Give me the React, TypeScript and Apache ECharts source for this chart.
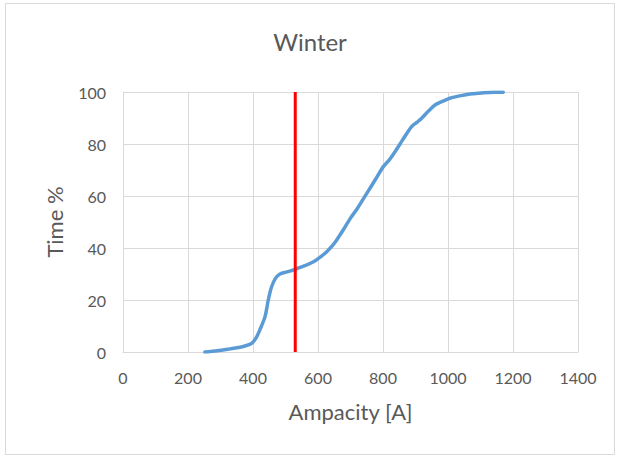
import React, { useEffect, useRef } from "react";
import * as echarts from "echarts";

const ampacity = [252, 290, 329, 360, 375, 396, 410, 421, 437, 447, 457, 470, 483, 505, 529, 560, 586, 610, 627, 645, 657, 678, 700, 720, 740, 760, 780, 801, 820, 837, 860, 888, 905, 919, 940, 960, 985, 1006, 1040, 1068, 1110, 1140, 1170];
const timePct = [0, 0.5, 1.2, 1.8, 2.3, 3.3, 5.5, 8.5, 13.6, 20, 25, 28.5, 30, 30.8, 31.8, 33.2, 34.7, 36.8, 38.6, 41, 43, 47, 51.5, 55, 59, 63, 67, 71.3, 74, 77, 81.5, 86.7, 88.4, 89.9, 92.7, 95, 96.5, 97.6, 98.6, 99.2, 99.7, 99.9, 99.9];
const thresholdX = 530;
const xTicks = { min: 0, max: 1400, interval: 200 };
const yTicks = { min: 0, max: 100, interval: 20 };
const titleText = "Winter";
const xName = "Ampacity [A]";
const yName = "Time %";

export default function App() {
  const ref = useRef<HTMLDivElement>(null);
  useEffect(() => {
    document.body.style.margin = "0";
    const chart = echarts.init(ref.current!, null, { renderer: "svg" });
    const font = "Lato, 'Open Sans', sans-serif";
    chart.setOption({
      animation: false,
      backgroundColor: "#ffffff",
      textStyle: { fontFamily: font },
      title: {
        text: titleText,
        left: "center",
        top: 24,
        textStyle: { fontFamily: font, fontSize: 24, fontWeight: "normal", color: "#595959" },
      },
      graphic: [
        {
          type: "rect",
          shape: { x: 5.5, y: 3.5, width: 609, height: 451 },
          style: { fill: "none", stroke: "#d9d9d9", lineWidth: 1 },
          silent: true,
        },
      ],
      grid: { left: 123, right: 42, top: 92, bottom: 105 },
      xAxis: {
        type: "value",
        min: xTicks.min,
        max: xTicks.max,
        interval: xTicks.interval,
        name: xName,
        nameLocation: "middle",
        nameGap: 48,
        nameTextStyle: { fontFamily: font, fontSize: 22, color: "#595959" },
        axisLine: { show: true, lineStyle: { color: "#d9d9d9", width: 1 } },
        axisTick: { show: false },
        axisLabel: { fontFamily: font, fontSize: 16, color: "#595959", margin: 17, formatter: (v: number) => String(v) },
        splitLine: { show: true, lineStyle: { color: "#d9d9d9", width: 1 } },
      },
      yAxis: {
        type: "value",
        min: yTicks.min,
        max: yTicks.max,
        interval: yTicks.interval,
        name: yName,
        nameLocation: "middle",
        nameGap: 58,
        nameTextStyle: { fontFamily: font, fontSize: 22, color: "#595959" },
        axisLine: { show: true, lineStyle: { color: "#d9d9d9", width: 1 } },
        axisTick: { show: false },
        axisLabel: { fontFamily: font, fontSize: 16, color: "#595959", margin: 17, formatter: (v: number) => String(v) },
        splitLine: { show: true, lineStyle: { color: "#d9d9d9", width: 1 } },
      },
      series: [
        {
          type: "line",
          data: ampacity.map((a, i) => [a, timePct[i]]),
          showSymbol: false,
          smooth: 0.3,
          lineStyle: { color: "#5b9bd5", width: 3.5, cap: "round" },
          z: 2,
        },
        {
          type: "line",
          data: [
            [thresholdX, yTicks.min],
            [thresholdX, yTicks.max],
          ],
          showSymbol: false,
          lineStyle: { color: "#ff0000", width: 3 },
          z: 3,
        },
      ],
    });
    return () => chart.dispose();
  }, []);
  return <div ref={ref} style={{ width: 620, height: 457 }} />;
}
